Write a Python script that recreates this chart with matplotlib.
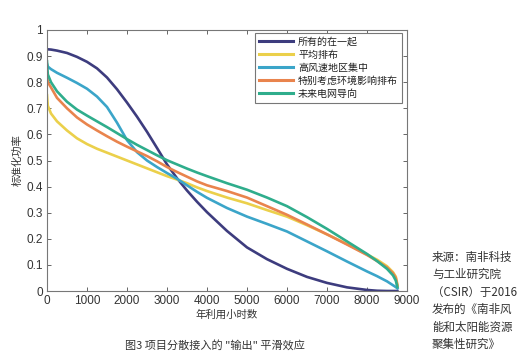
import numpy as np
import matplotlib
matplotlib.use("Agg")
import matplotlib.pyplot as plt

plt.rcParams['font.family'] = ['Liberation Sans', 'Noto Sans CJK SC', 'DejaVu Sans']
CJK = ['Noto Sans CJK SC', 'DejaVu Sans']

hours = [0, 20, 100, 250, 500, 750, 1000, 1250, 1500, 1750, 2000, 2250, 2500, 2750,
         3000, 3250, 3500, 3750, 4000, 4500, 5000, 5500, 6000, 6500, 7000, 7500,
         8000, 8250, 8500, 8650, 8720, 8760]

all_together = [0.926, 0.926, 0.925, 0.921, 0.912, 0.897, 0.878, 0.853, 0.818, 0.773,
                0.722, 0.668, 0.610, 0.548, 0.485, 0.432, 0.385, 0.342, 0.302, 0.230,
                0.167, 0.122, 0.085, 0.054, 0.031, 0.014, 0.004, 0.001, 0.0, 0.0, 0.0, 0.0]
even_spread = [0.750, 0.710, 0.680, 0.650, 0.615, 0.585, 0.563, 0.545, 0.530, 0.515,
               0.500, 0.485, 0.470, 0.455, 0.440, 0.427, 0.413, 0.397, 0.383, 0.358,
               0.336, 0.310, 0.285, 0.252, 0.217, 0.180, 0.140, 0.120, 0.095, 0.072, 0.055, 0.025]
high_wind = [0.870, 0.860, 0.850, 0.836, 0.817, 0.797, 0.775, 0.745, 0.705, 0.645,
             0.578, 0.532, 0.500, 0.475, 0.452, 0.430, 0.405, 0.380, 0.357, 0.318,
             0.285, 0.257, 0.228, 0.190, 0.152, 0.113, 0.075, 0.057, 0.037, 0.022, 0.015, 0.010]
env_aware = [0.830, 0.800, 0.780, 0.740, 0.700, 0.665, 0.638, 0.615, 0.593, 0.572,
             0.553, 0.535, 0.517, 0.497, 0.475, 0.456, 0.438, 0.420, 0.405, 0.383,
             0.358, 0.325, 0.292, 0.255, 0.217, 0.178, 0.138, 0.115, 0.090, 0.068, 0.050, 0.020]
grid_led = [0.880, 0.830, 0.800, 0.765, 0.725, 0.695, 0.672, 0.650, 0.628, 0.605,
            0.582, 0.560, 0.540, 0.520, 0.501, 0.485, 0.469, 0.454, 0.440, 0.413,
            0.388, 0.358, 0.325, 0.283, 0.238, 0.190, 0.142, 0.115, 0.085, 0.060, 0.040, 0.015]

series = [all_together, even_spread, high_wind, env_aware, grid_led]
labels = ['所有的在一起', '平均排布', '高风速地区集中', '特别考虑环境影响排布', '未来电网导向']
colors = ['#3d3c7e', '#ebd04b', '#3ba5c9', '#e9844d', '#2fad8c']

source_lines = ['来源：南非科技', '与工业研究院', '（CSIR）于2016', '发布的《南非风',
                '能和太阳能资源', '聚集性研究》']

W, H = 523, 361
fig = plt.figure(figsize=(W / 100, H / 100), dpi=100)
ax = fig.add_axes([47 / W, 1 - 291 / H, 360 / W, 261 / H])

for y, c, lab in zip(series, colors, labels):
    ax.plot(hours, y, color=c, linewidth=1.9, label=lab)

ax.set_xlim(0, 9000)
ax.set_ylim(0, 1)
ax.set_xticks(np.arange(0, 9001, 1000))
ax.set_yticks(np.arange(0, 1.01, 0.1))
ax.set_yticklabels(['0', '0.1', '0.2', '0.3', '0.4', '0.5', '0.6', '0.7', '0.8', '0.9', '1'])
ax.tick_params(direction='in', top=True, right=True, length=3, width=0.7,
               colors='#666', labelcolor='#333', labelsize=8.5, pad=3)
for s in ax.spines.values():
    s.set_color('#777')
    s.set_linewidth(0.8)

ax.set_xlabel('年利用小时数', family=CJK, fontsize=7.5, color='#333', labelpad=2)
ax.set_ylabel('标准化功率', family=CJK, fontsize=7.5, color='#333', labelpad=3)

leg = ax.legend(loc='upper left', bbox_to_anchor=(0.578, 0.99), borderaxespad=0,
                prop={'family': CJK, 'size': 7.2}, handlelength=3.4, handletextpad=0.5,
                labelspacing=0.3, borderpad=0.4, fancybox=False, framealpha=1)
leg.get_frame().set_edgecolor('#777')
leg.get_frame().set_linewidth(0.8)
for t in leg.get_texts():
    t.set_color('#222')
for ln in leg.get_lines():
    ln.set_linewidth(2.2)

fig.text(215 / W, 1 - 345 / H, '图3 项目分散接入的 "输出" 平滑效应', family=CJK,
         fontsize=8, color='#333', ha='center', va='center')

for i, line in enumerate(source_lines):
    fig.text(432 / W, 1 - (257 + i * 17.5) / H, line, family=CJK, fontsize=8.3,
             color='#333', ha='left', va='center')

fig.savefig('out.png', dpi=100, facecolor='white')
